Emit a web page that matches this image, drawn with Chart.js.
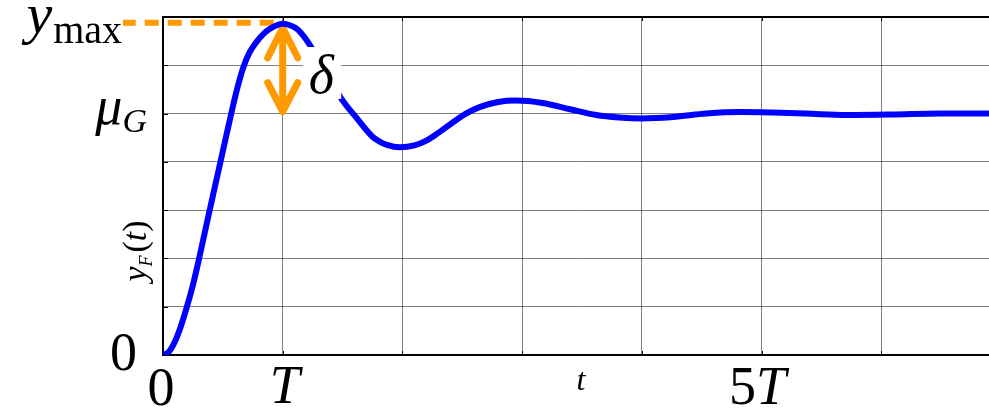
<!DOCTYPE html>
<html>
<head>
<meta charset="utf-8">
<script src="https://cdn.jsdelivr.net/npm/chart.js@4/dist/chart.umd.min.js"></script>
<style>
  html, body { margin: 0; padding: 0; background: #fff; overflow: hidden; }
  canvas { display: block; }
</style>
</head>
<body>
<canvas id="c" width="989" height="410"></canvas>
<script>
// Step response y_F(t) of a damped second-order system.
// Time is measured in units of the period T, output in grid units (mu_G = 5).
const timeT = [0, 0.05, 0.10, 0.15, 0.20, 0.25, 0.30, 0.39, 0.48, 0.57, 0.62, 0.67,
               0.72, 0.78, 0.84, 0.89, 0.95, 1.00, 1.06, 1.12, 1.20, 1.30, 1.40, 1.49,
               1.62, 1.75, 1.81, 1.87, 1.98, 2.10, 2.20, 2.30, 2.40, 2.53, 2.65, 2.80,
               2.95, 3.17, 3.40, 3.62, 3.81, 4.00, 4.26, 4.54, 4.82, 5.09, 5.37, 5.71,
               6.09, 6.49, 6.90];
const response = [0, 0.07, 0.28, 0.60, 1.00, 1.45, 1.98, 3.00, 4.00, 5.00, 5.52, 5.95,
                  6.25, 6.48, 6.65, 6.75, 6.83, 6.86, 6.83, 6.75, 6.52, 6.12, 5.70, 5.31,
                  4.90, 4.52, 4.42, 4.35, 4.30, 4.34, 4.44, 4.60, 4.78, 5.00, 5.14, 5.24,
                  5.27, 5.22, 5.09, 4.97, 4.92, 4.90, 4.93, 5.00, 5.03, 5.02, 5.00, 4.97,
                  4.98, 5.00, 5.00];
const muG = 5;          // steady-state value
const yMax = 6.86;      // peak value, reached at t = T
const tPeak = 1;
const xTicks = [0, 1, 2, 3, 4, 5, 6];
const yTicks = [0, 1, 2, 3, 4, 5, 6, 7];

const SERIF = "'Liberation Serif', 'DejaVu Serif', serif";
const ORANGE = '#FF9900';

// draw a sequence of differently styled text runs on one baseline
function drawRuns(ctx, runs, x, y, align) {
  let total = 0;
  const widths = runs.map(r => {
    ctx.font = (r.italic ? 'italic ' : '') + r.size + 'px ' + SERIF;
    const w = ctx.measureText(r.t).width;
    total += w + (r.gap || 0);
    return w;
  });
  let cx = align === 'right' ? x - total : align === 'center' ? x - total / 2 : x;
  ctx.textAlign = 'left';
  ctx.textBaseline = 'alphabetic';
  runs.forEach((r, i) => {
    ctx.font = (r.italic ? 'italic ' : '') + r.size + 'px ' + SERIF;
    ctx.fillText(r.t, cx, y + (r.dy || 0));
    cx += widths[i] + (r.gap || 0);
  });
}

const decorations = {
  id: 'decorations',
  beforeDatasetsDraw(chart) {
    const { ctx, scales: { x, y } } = chart;
    ctx.save();
    // inner tick marks
    ctx.strokeStyle = '#000';
    ctx.lineWidth = 1;
    xTicks.forEach(v => {
      const px = Math.round(x.getPixelForValue(v)) + 0.5;
      ctx.beginPath();
      ctx.moveTo(px, y.bottom); ctx.lineTo(px, y.bottom - 4);
      ctx.moveTo(px, y.top); ctx.lineTo(px, y.top + 4);
      ctx.stroke();
    });
    yTicks.forEach(v => {
      const py = Math.round(y.getPixelForValue(v)) + 0.5;
      ctx.beginPath();
      ctx.moveTo(x.left, py); ctx.lineTo(x.left + 5, py);
      ctx.stroke();
    });
    // top frame line
    ctx.lineWidth = 2;
    ctx.beginPath();
    ctx.moveTo(x.left, y.top); ctx.lineTo(x.right, y.top);
    ctx.stroke();

    // dashed marker of the peak value
    const yp = y.getPixelForValue(yMax);
    const xp = x.getPixelForValue(tPeak);
    ctx.strokeStyle = ORANGE;
    ctx.lineWidth = 6;
    ctx.setLineDash([14, 9]);
    ctx.beginPath();
    ctx.moveTo(xp - 9, yp - 1);
    ctx.lineTo(123, yp - 1);
    ctx.stroke();
    ctx.setLineDash([]);

    // double arrow delta between mu_G and y_max
    const yb = y.getPixelForValue(muG);
    const top = yp + 4, bot = yb - 2;
    ctx.lineWidth = 7;
    ctx.lineCap = 'round';
    ctx.lineJoin = 'round';
    ctx.beginPath();
    ctx.moveTo(xp, top); ctx.lineTo(xp, bot);
    ctx.moveTo(xp - 15, top + 30); ctx.lineTo(xp, top); ctx.lineTo(xp + 15, top + 30);
    ctx.moveTo(xp - 15, bot - 29); ctx.lineTo(xp, bot); ctx.lineTo(xp + 15, bot - 29);
    ctx.stroke();
    ctx.restore();
  },
  afterDatasetsDraw(chart) {
    const { ctx, scales: { x, y } } = chart;
    ctx.save();
    // delta label on a white node
    const cx = x.getPixelForValue(1.33), cy = y.getPixelForValue(5.84);
    ctx.fillStyle = '#fff';
    ctx.fillRect(cx - 19, cy - 26, 38, 52);
    ctx.fillStyle = '#000';
    drawRuns(ctx, [{ t: 'δ', size: 54, italic: true }], cx - 1, cy + 20, 'center');
    ctx.restore();
  },
  afterDraw(chart) {
    const { ctx, scales: { x, y } } = chart;
    ctx.save();
    ctx.fillStyle = '#000';
    // x tick labels
    drawRuns(ctx, [{ t: '0', size: 54 }], x.getPixelForValue(0) - 2, y.bottom + 50, 'center');
    drawRuns(ctx, [{ t: 'T', size: 54, italic: true }], x.getPixelForValue(1) + 2, y.bottom + 48, 'center');
    drawRuns(ctx, [{ t: '5', size: 54 }, { t: 'T', size: 54, italic: true }],
             x.getPixelForValue(5) - 4, y.bottom + 49, 'center');
    // x axis title
    drawRuns(ctx, [{ t: 't', size: 32, italic: true }], (x.left + x.right) / 2 + 5, y.bottom + 35, 'center');
    // y tick labels
    drawRuns(ctx, [{ t: '0', size: 54 }], x.left - 26, y.getPixelForValue(0) + 15, 'right');
    drawRuns(ctx, [{ t: 'μ', size: 54, italic: true }, { t: 'G', size: 34, italic: true, dy: 8 }],
             x.left - 16, y.getPixelForValue(muG) + 10, 'right');
    drawRuns(ctx, [{ t: 'y', size: 58, italic: true, gap: 1 }, { t: 'max', size: 40, dy: 10 }],
             122, y.getPixelForValue(yMax) + 9, 'right');
    // y axis title, rotated
    ctx.translate(x.left - 17, (y.top + y.bottom) / 2 + 65);
    ctx.rotate(-Math.PI / 2);
    drawRuns(ctx, [
      { t: 'y', size: 34, italic: true },
      { t: 'F', size: 18, italic: true, dy: 6, gap: 3 },
      { t: '(', size: 34 },
      { t: 't', size: 34, italic: true },
      { t: ')', size: 34 }
    ], 0, 0, 'center');
    ctx.restore();
  }
};

const onlyIntegers = s => { s.ticks = s.ticks.filter(t => Number.isInteger(t.value)); };

new Chart(document.getElementById('c'), {
  type: 'line',
  data: {
    datasets: [{
      data: timeT.map((t, i) => ({ x: t, y: response[i] })),
      borderColor: '#0000FF',
      borderWidth: 6,
      pointRadius: 0,
      cubicInterpolationMode: 'monotone',
      fill: false
    }]
  },
  options: {
    responsive: false,
    animation: false,
    devicePixelRatio: 1,
    layout: { padding: { left: 163, right: 0, top: 17, bottom: 55 } },
    plugins: { legend: { display: false }, tooltip: { enabled: false } },
    scales: {
      x: {
        type: 'linear', min: 0, max: 6.9,
        ticks: { display: false, stepSize: 1 },
        afterBuildTicks: onlyIntegers,
        afterFit: s => { s.height = 0; },
        grid: {
          drawTicks: false,
          color: c => c.tick && c.tick.value === 0 ? 'rgba(0,0,0,0)' : 'rgba(0,0,0,0.5)',
          lineWidth: 1
        },
        border: { display: true, color: '#000', width: 2 }
      },
      y: {
        min: 0, max: 7,
        ticks: { display: false, stepSize: 1 },
        afterBuildTicks: onlyIntegers,
        afterFit: s => { s.width = 0; },
        grid: {
          drawTicks: false,
          color: c => c.tick && (c.tick.value === 0 || c.tick.value === 7) ? 'rgba(0,0,0,0)' : 'rgba(0,0,0,0.5)',
          lineWidth: 1
        },
        border: { display: true, color: '#000', width: 2 }
      }
    }
  },
  plugins: [decorations]
});
</script>
</body>
</html>
